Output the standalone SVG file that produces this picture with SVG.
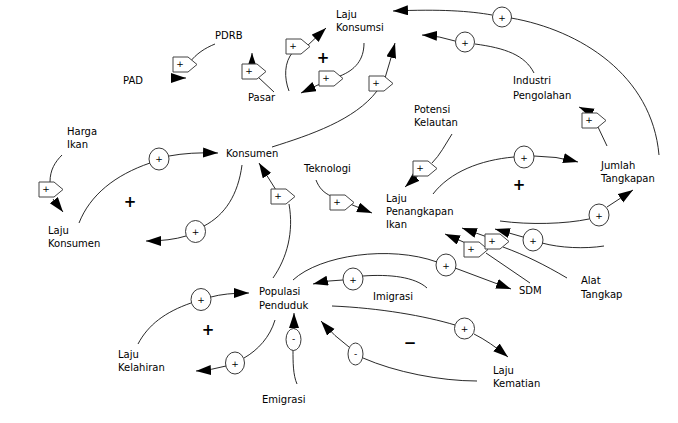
<svg xmlns="http://www.w3.org/2000/svg" xmlns:xlink="http://www.w3.org/1999/xlink" width="678" height="423" viewBox="0 0 678 423">
<style>
.lbl{font-family:"DejaVu Sans",Verdana,sans-serif;font-size:10px;fill:#000}
.sm{font-family:"DejaVu Sans",Verdana,sans-serif;font-size:9px;fill:#000;text-anchor:middle}
.big{font-family:"DejaVu Sans",Verdana,sans-serif;font-size:15px;font-weight:bold;fill:#000;text-anchor:middle}
.c{fill:none;stroke:#111;stroke-width:0.9}
.a{fill:none;stroke:#111;stroke-width:0.9;marker-end:url(#ah)}
.v{fill:#fff;stroke:#444;stroke-width:1}
.o{fill:#fff;stroke:#222;stroke-width:0.9}
</style>
<defs>
<marker id="ah" markerUnits="userSpaceOnUse" markerWidth="16" markerHeight="11" refX="15" refY="5" orient="auto"><path d="M0,0 L15,5 L0,10 Z" fill="#000"/></marker>
<path id="valve" d="M0,0 H15 L24,7.5 L15,15 H0 Z"/>
</defs>
<rect width="678" height="423" fill="#fff"/>
<g id="connectors">
<!-- PDRB -> PAD -->
<path class="c" d="M215,44 C205,48 196,54 190,62"/>
<path class="a" d="M171,78 L186,78"/>
<!-- Pasar -->
<path class="c" d="M274,92 L258,77"/>
<path class="a" d="M252,67 L252,53"/>
<!-- to Laju Konsumsi via V3 -->
<path class="c" d="M289,91 C284,78 284,62 293,52"/>
<path class="a" d="M306,47 L326,28"/>
<!-- Laju Konsumsi -> V4 -->
<path class="c" d="M364,43 C364,60 355,70 340,76"/>
<path class="a" d="M322,83 L301,93"/>
<!-- Konsumen -> V5 -> Laju Konsumsi -->
<path class="c" d="M272,147 C310,135 355,120 377,91"/>
<path class="a" d="M385,78 Q390,62 395,43"/>
<!-- Jumlah Tangkapan -> C1 -> Laju Konsumsi -->
<path class="c" d="M659,155 C652,75 580,30 511,18"/>
<path class="a" d="M492,15 C470,11 440,9 393,11"/>
<!-- Industri -> C2 -> Laju Konsumsi -->
<path class="c" d="M534,73 C525,55 505,48 475,44"/>
<path class="a" d="M455,41 Q440,36 422,35"/>
<!-- Jumlah -> V6 -> Industri -->
<path class="c" d="M607,146 L598,127"/>
<path class="a" d="M592,113 L579,107"/>
<!-- Harga Ikan -> V7 -> Laju Konsumen -->
<path class="c" d="M62,155 C55,162 50,170 50,182"/>
<path class="a" d="M53,199 L63,212"/>
<!-- Laju Konsumen -> C3 -> Konsumen -->
<path class="c" d="M79,223 C90,195 115,175 150,163"/>
<path class="a" d="M169,156 Q190,152 218,153"/>
<!-- Konsumen -> C4 -> Laju Konsumen -->
<path class="c" d="M242,165 C238,195 225,215 204,226"/>
<path class="a" d="M186,236 Q170,241 146,241"/>
<!-- Populasi -> V8 -> Konsumen -->
<path class="c" d="M273,278 C287,258 294,232 289,204"/>
<path class="a" d="M276,190 L259,163"/>
<!-- Teknologi -> V9 -> LPI -->
<path class="c" d="M316,180 C319,188 324,193 331,196"/>
<path class="a" d="M350,204 L372,213"/>
<!-- Potensi -> V10 -> LPI -->
<path class="c" d="M452,134 C445,145 440,155 432,163"/>
<path class="a" d="M422,172 L405,187"/>
<!-- LPI -> C5 -> Jumlah -->
<path class="c" d="M433,194 C450,172 480,160 514,157"/>
<path class="a" d="M534,156 Q556,156 578,162"/>
<!-- -> C6 -> Jumlah -->
<path class="c" d="M500,221 C530,225 565,224 589,219"/>
<path class="a" d="M607,207 L633,190"/>
<!-- Jumlah -> C7 -> LPI -->
<path class="c" d="M604,246 C585,249 560,248 542,243"/>
<path class="a" d="M523,237 L495,229"/>
<!-- SDM -> V11 -> LPI -->
<path class="c" d="M530,283 L486,253"/>
<path class="a" d="M468,244 L445,234"/>
<!-- Alat Tangkap -> V12 -> LPI -->
<path class="c" d="M567,278 C545,265 525,255 503,247"/>
<path class="a" d="M490,238 L462,228"/>
<!-- Populasi -> C8 -> SDM -->
<path class="c" d="M293,280 C320,255 390,245 437,262"/>
<path class="a" d="M455,268 L511,289"/>
<!-- Imigrasi -> C9 -> Populasi -->
<path class="c" d="M427,288 C415,277 390,274 363,276"/>
<path class="a" d="M343,280 Q330,280 313,284"/>
<!-- Laju Kelahiran -> C11 -> Populasi -->
<path class="c" d="M138,344 C148,325 165,312 191,303"/>
<path class="a" d="M211,297 Q225,293 249,293"/>
<!-- Populasi -> C12 -> Laju Kelahiran -->
<path class="c" d="M275,320 C270,337 258,350 244,358"/>
<path class="a" d="M226,366 Q212,370 196,371"/>
<!-- Emigrasi -> C13 -> Populasi -->
<path class="c" d="M297,384 C293,375 293,362 293,350"/>
<path class="a" d="M294,329 L294,313"/>
<!-- Laju Kematian -> C14 -> Populasi -->
<path class="c" d="M477,381 C440,381 395,372 363,358"/>
<path class="a" d="M349,347 Q335,337 321,321"/>
<!-- Populasi -> C15 -> Laju Kematian -->
<path class="c" d="M332,306 C380,308 425,316 455,325"/>
<path class="a" d="M474,334 Q490,342 508,357"/>
</g>
<g id="valves">
<g id="v1"><use href="#valve" class="v" x="173" y="57"/><text class="sm" x="180" y="67">+</text></g>
<g id="v2"><use href="#valve" class="v" x="242" y="64"/><text class="sm" x="249" y="74">+</text></g>
<g id="v3"><use href="#valve" class="v" x="286" y="39"/><text class="sm" x="293" y="49">+</text></g>
<g id="v4"><use href="#valve" class="v" x="319" y="71"/><text class="sm" x="326" y="81">+</text></g>
<g id="v5"><use href="#valve" class="v" x="369" y="76"/><text class="sm" x="376" y="86">+</text></g>
<g id="v6"><use href="#valve" class="v" x="582" y="113"/><text class="sm" x="589" y="123">+</text></g>
<g id="v7"><use href="#valve" class="v" x="39" y="182"/><text class="sm" x="46" y="192">+</text></g>
<g id="v8"><use href="#valve" class="v" x="271" y="189"/><text class="sm" x="278" y="199">+</text></g>
<g id="v9"><use href="#valve" class="v" x="330" y="195"/><text class="sm" x="337" y="205">+</text></g>
<g id="v10"><use href="#valve" class="v" x="413" y="161"/><text class="sm" x="420" y="171">+</text></g>
<g id="v11"><use href="#valve" class="v" x="464" y="242"/><text class="sm" x="471" y="252">+</text></g>
<g id="v12"><use href="#valve" class="v" x="485" y="234"/><text class="sm" x="492" y="244">+</text></g>
</g>
<g id="circles">
<g id="c1"><ellipse class="o" cx="502" cy="17" rx="9.5" ry="10"/><text class="sm" x="502" y="20.5">+</text></g>
<g id="c2"><ellipse class="o" cx="465" cy="42" rx="9.5" ry="10"/><text class="sm" x="465" y="45.5">+</text></g>
<g id="c3"><ellipse class="o" cx="159" cy="159" rx="10" ry="11"/><text class="sm" x="159" y="162">+</text></g>
<g id="c4"><ellipse class="o" cx="195.5" cy="231.5" rx="10" ry="11"/><text class="sm" x="195.5" y="235">+</text></g>
<g id="c5"><ellipse class="o" cx="524" cy="157" rx="10" ry="11"/><text class="sm" x="524" y="160.5">+</text></g>
<g id="c6"><ellipse class="o" cx="599" cy="215" rx="10" ry="11"/><text class="sm" x="599" y="218.5">+</text></g>
<g id="c7"><ellipse class="o" cx="533" cy="240" rx="10" ry="11"/><text class="sm" x="533" y="243.5">+</text></g>
<g id="c8"><ellipse class="o" cx="446" cy="265" rx="10" ry="11"/><text class="sm" x="446" y="268.5">+</text></g>
<g id="c9"><ellipse class="o" cx="353" cy="279" rx="10" ry="11"/><text class="sm" x="353" y="282.5">+</text></g>
<g id="c11"><ellipse class="o" cx="201" cy="299.5" rx="10" ry="11"/><text class="sm" x="201" y="303">+</text></g>
<g id="c12"><ellipse class="o" cx="235" cy="363" rx="9.5" ry="11"/><text class="sm" x="235" y="366.5">+</text></g>
<g id="c13"><ellipse class="o" cx="293.5" cy="339.5" rx="7.5" ry="11"/><text class="sm" x="293.5" y="342">-</text></g>
<g id="c14"><ellipse class="o" cx="355.5" cy="354" rx="7.5" ry="11"/><text class="sm" x="355.5" y="356.5">-</text></g>
<g id="c15"><ellipse class="o" cx="464.5" cy="328.5" rx="10" ry="10.5"/><text class="sm" x="464.5" y="332">+</text></g>
</g>
<g id="loop-signs">
<text class="big" x="323" y="63">+</text>
<text class="big" x="130" y="207">+</text>
<text class="big" x="519" y="190">+</text>
<text class="big" x="208" y="335">+</text>
<text class="big" x="410" y="348">−</text>
</g>
<g id="n-pdrb"><text class="lbl" x="215" y="39">PDRB</text></g>
<g id="n-pad"><text class="lbl" x="123" y="84">PAD</text></g>
<g id="n-laju-konsumsi"><text class="lbl" x="336" y="18">Laju</text><text class="lbl" x="336" y="31">Konsumsi</text></g>
<g id="n-pasar"><text class="lbl" x="248" y="101">Pasar</text></g>
<g id="n-potensi"><text class="lbl" x="414" y="113">Potensi</text><text class="lbl" x="414" y="126">Kelautan</text></g>
<g id="n-industri"><text class="lbl" x="513" y="84">Industri</text><text class="lbl" x="513" y="99">Pengolahan</text></g>
<g id="n-harga"><text class="lbl" x="67" y="135">Harga</text><text class="lbl" x="67" y="148">Ikan</text></g>
<g id="n-konsumen"><text class="lbl" x="226" y="157">Konsumen</text></g>
<g id="n-teknologi"><text class="lbl" x="304" y="172">Teknologi</text></g>
<g id="n-lpi"><text class="lbl" x="386" y="202">Laju</text><text class="lbl" x="386" y="215">Penangkapan</text><text class="lbl" x="386" y="228">Ikan</text></g>
<g id="n-jumlah"><text class="lbl" x="601" y="169">Jumlah</text><text class="lbl" x="601" y="182">Tangkapan</text></g>
<g id="n-laju-konsumen"><text class="lbl" x="48" y="234">Laju</text><text class="lbl" x="48" y="247">Konsumen</text></g>
<g id="n-alat"><text class="lbl" x="581" y="284">Alat</text><text class="lbl" x="581" y="298">Tangkap</text></g>
<g id="n-sdm"><text class="lbl" x="519" y="294">SDM</text></g>
<g id="n-populasi"><text class="lbl" x="259" y="295">Populasi</text><text class="lbl" x="259" y="309">Penduduk</text></g>
<g id="n-imigrasi"><text class="lbl" x="373" y="300">Imigrasi</text></g>
<g id="n-kelahiran"><text class="lbl" x="118" y="358">Laju</text><text class="lbl" x="118" y="371">Kelahiran</text></g>
<g id="n-emigrasi"><text class="lbl" x="262" y="403">Emigrasi</text></g>
<g id="n-kematian"><text class="lbl" x="493" y="374">Laju</text><text class="lbl" x="493" y="387">Kematian</text></g>
</svg>
